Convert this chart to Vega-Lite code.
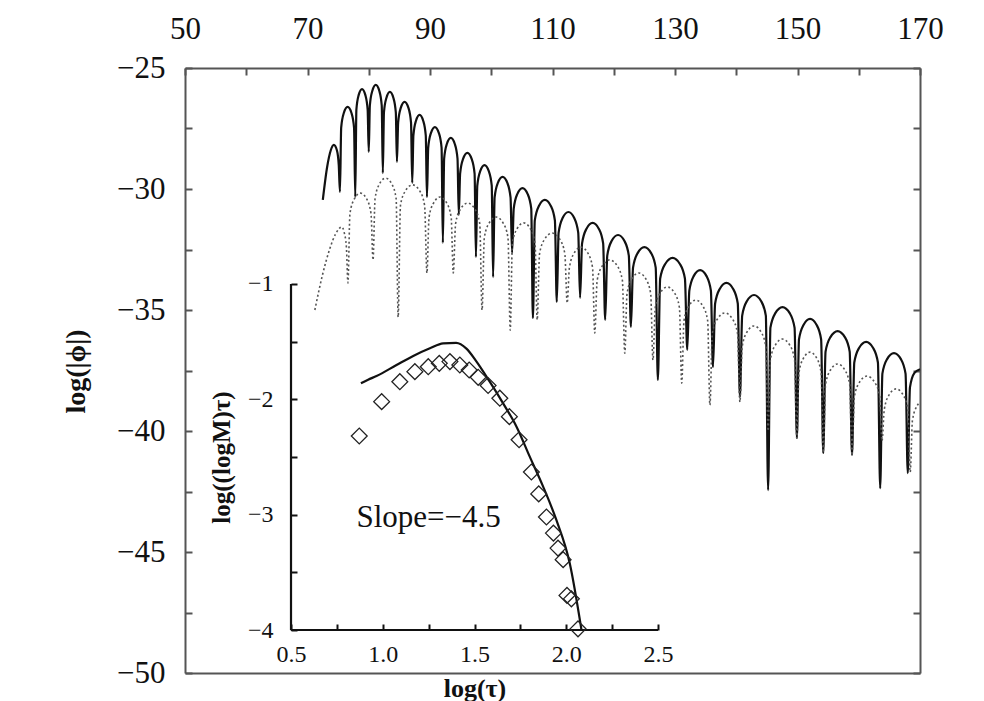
{
"$schema": "https://vega.github.io/schema/vega-lite/v6.json",
"width": 735, "height": 605,
"autosize": {"type": "none"},
"padding": {"left": 185, "top": 68, "right": 64, "bottom": 28},
"background": "white",
"config": {"view": {"stroke": null}, "font": "Liberation Serif",
 "axis": {"grid": false, "labelFont": "Liberation Serif", "titleFont": "Liberation Serif", "labelColor": "#111", "titleColor": "#111", "labelOverlap": false, "labelFlush": false, "labelBound": false}},
"datasets": {
"phi_solid": [
{"x":72.5,"y":-30.45},{"x":73.2,"y":-29.1},{"x":73.8,"y":-28.4},{"x":74.3,"y":-28.18},{"x":74.8,"y":-28.4},{"x":75.1,"y":-29.0},
{"x":75.3,"y":-30.12},
{"x":75.5,"y":-27.46},{"x":75.93,"y":-26.86},{"x":76.55,"y":-26.61},{"x":77.18,"y":-26.86},{"x":77.6,"y":-27.46},
{"x":77.8,"y":-30.33},
{"x":77.98,"y":-26.72},{"x":78.35,"y":-26.12},{"x":78.9,"y":-25.87},{"x":79.45,"y":-26.12},{"x":79.82,"y":-26.72},
{"x":80.0,"y":-28.47},
{"x":80.18,"y":-26.55},{"x":80.58,"y":-25.95},{"x":81.15,"y":-25.7},{"x":81.73,"y":-25.95},{"x":82.12,"y":-26.55},
{"x":82.3,"y":-29.34},
{"x":82.48,"y":-26.84},{"x":82.88,"y":-26.24},{"x":83.45,"y":-25.99},{"x":84.03,"y":-26.24},{"x":84.42,"y":-26.84},
{"x":84.6,"y":-28.88},
{"x":84.8,"y":-27.25},{"x":85.23,"y":-26.65},{"x":85.85,"y":-26.4},{"x":86.48,"y":-26.65},{"x":86.9,"y":-27.25},
{"x":87.1,"y":-29.75},
{"x":87.29,"y":-27.79},{"x":87.7,"y":-27.19},{"x":88.3,"y":-26.94},{"x":88.9,"y":-27.19},{"x":89.31,"y":-27.79},
{"x":89.5,"y":-30.33},
{"x":89.71,"y":-28.29},{"x":90.15,"y":-27.69},{"x":90.8,"y":-27.44},{"x":91.45,"y":-27.69},{"x":91.89,"y":-28.29},
{"x":92.1,"y":-32.23},
{"x":92.31,"y":-28.74},{"x":92.75,"y":-28.14},{"x":93.4,"y":-27.89},{"x":94.05,"y":-28.14},{"x":94.49,"y":-28.74},
{"x":94.7,"y":-31.07},
{"x":94.92,"y":-29.36},{"x":95.4,"y":-28.76},{"x":96.1,"y":-28.51},{"x":96.8,"y":-28.76},{"x":97.28,"y":-29.36},
{"x":97.5,"y":-32.81},
{"x":97.72,"y":-29.86},{"x":98.2,"y":-29.26},{"x":98.9,"y":-29.01},{"x":99.6,"y":-29.26},{"x":100.08,"y":-29.86},
{"x":100.3,"y":-33.64},
{"x":100.55,"y":-30.35},{"x":101.08,"y":-29.75},{"x":101.85,"y":-29.5},{"x":102.63,"y":-29.75},{"x":103.15,"y":-30.35},
{"x":103.4,"y":-32.64},
{"x":103.67,"y":-30.81},{"x":104.25,"y":-30.21},{"x":105.1,"y":-29.96},{"x":105.95,"y":-30.21},{"x":106.53,"y":-30.81},
{"x":106.8,"y":-35.33},
{"x":107.11,"y":-31.3},{"x":107.78,"y":-30.7},{"x":108.75,"y":-30.45},{"x":109.73,"y":-30.7},{"x":110.39,"y":-31.3},
{"x":110.7,"y":-34.67},
{"x":111.0,"y":-31.8},{"x":111.65,"y":-31.2},{"x":112.6,"y":-30.95},{"x":113.55,"y":-31.2},{"x":114.2,"y":-31.8},
{"x":114.5,"y":-34.5},
{"x":114.83,"y":-32.25},{"x":115.53,"y":-31.65},{"x":116.55,"y":-31.4},{"x":117.58,"y":-31.65},{"x":118.27,"y":-32.25},
{"x":118.6,"y":-35.41},
{"x":118.94,"y":-32.75},{"x":119.65,"y":-32.15},{"x":120.7,"y":-31.9},{"x":121.75,"y":-32.15},{"x":122.46,"y":-32.75},
{"x":122.8,"y":-35.7},
{"x":123.15,"y":-33.25},{"x":123.9,"y":-32.65},{"x":125.0,"y":-32.4},{"x":126.1,"y":-32.65},{"x":126.85,"y":-33.25},
{"x":127.2,"y":-37.89},
{"x":127.58,"y":-33.7},{"x":128.4,"y":-33.1},{"x":129.6,"y":-32.85},{"x":130.8,"y":-33.1},{"x":131.62,"y":-33.7},
{"x":132.0,"y":-36.65},
{"x":132.34,"y":-34.2},{"x":133.05,"y":-33.6},{"x":134.1,"y":-33.35},{"x":135.15,"y":-33.6},{"x":135.86,"y":-34.2},
{"x":136.2,"y":-37.36},
{"x":136.55,"y":-34.73},{"x":137.3,"y":-34.13},{"x":138.4,"y":-33.88},{"x":139.5,"y":-34.13},{"x":140.25,"y":-34.73},
{"x":140.6,"y":-38.6},
{"x":140.97,"y":-35.23},{"x":141.75,"y":-34.63},{"x":142.9,"y":-34.38},{"x":144.05,"y":-34.63},{"x":144.83,"y":-35.23},
{"x":145.2,"y":-42.44},
{"x":145.58,"y":-35.73},{"x":146.38,"y":-35.13},{"x":147.55,"y":-34.88},{"x":148.73,"y":-35.13},{"x":149.52,"y":-35.73},
{"x":149.9,"y":-40.29},
{"x":150.24,"y":-36.22},{"x":150.98,"y":-35.62},{"x":152.05,"y":-35.37},{"x":153.13,"y":-35.62},{"x":153.86,"y":-36.22},
{"x":154.2,"y":-40.91},
{"x":154.58,"y":-36.72},{"x":155.38,"y":-36.12},{"x":156.55,"y":-35.87},{"x":157.73,"y":-36.12},{"x":158.52,"y":-36.72},
{"x":158.9,"y":-40.99},
{"x":159.27,"y":-37.17},{"x":160.05,"y":-36.57},{"x":161.2,"y":-36.32},{"x":162.35,"y":-36.57},{"x":163.13,"y":-37.17},
{"x":163.5,"y":-42.36},
{"x":163.86,"y":-37.63},{"x":164.63,"y":-37.03},{"x":165.75,"y":-36.78},{"x":166.88,"y":-37.03},{"x":167.64,"y":-37.63},
{"x":168.0,"y":-41.74},
{"x":168.36,"y":-38.2},{"x":169.1,"y":-37.6},{"x":170.0,"y":-37.45}
],
"phi_dotted": [
{"x":71.2,"y":-35.0},{"x":72.4,"y":-33.6},{"x":73.6,"y":-32.5},{"x":74.6,"y":-31.85},{"x":75.6,"y":-31.57},{"x":76.0,"y":-31.8},{"x":76.35,"y":-32.4},
{"x":76.6,"y":-33.88},
{"x":76.93,"y":-31.02},{"x":77.63,"y":-30.42},{"x":78.65,"y":-30.17},{"x":79.68,"y":-30.42},{"x":80.37,"y":-31.02},
{"x":80.7,"y":-32.93},
{"x":81.03,"y":-30.4},{"x":81.73,"y":-29.8},{"x":82.75,"y":-29.55},{"x":83.78,"y":-29.8},{"x":84.47,"y":-30.4},
{"x":84.8,"y":-35.29},
{"x":85.18,"y":-30.68},{"x":85.98,"y":-30.08},{"x":87.15,"y":-29.83},{"x":88.33,"y":-30.08},{"x":89.12,"y":-30.68},
{"x":89.5,"y":-33.47},
{"x":89.84,"y":-31.18},{"x":90.58,"y":-30.58},{"x":91.65,"y":-30.33},{"x":92.73,"y":-30.58},{"x":93.46,"y":-31.18},
{"x":93.8,"y":-33.47},
{"x":94.18,"y":-31.43},{"x":94.98,"y":-30.83},{"x":96.15,"y":-30.58},{"x":97.33,"y":-30.83},{"x":98.12,"y":-31.43},
{"x":98.5,"y":-35.0},
{"x":98.87,"y":-32.01},{"x":99.65,"y":-31.41},{"x":100.8,"y":-31.16},{"x":101.95,"y":-31.41},{"x":102.73,"y":-32.01},
{"x":103.1,"y":-35.83},
{"x":103.45,"y":-32.25},{"x":104.2,"y":-31.65},{"x":105.3,"y":-31.4},{"x":106.4,"y":-31.65},{"x":107.15,"y":-32.25},
{"x":107.5,"y":-35.41},
{"x":107.89,"y":-32.67},{"x":108.73,"y":-32.07},{"x":109.95,"y":-31.82},{"x":111.18,"y":-32.07},{"x":112.01,"y":-32.67},
{"x":112.4,"y":-34.71},
{"x":112.76,"y":-33.25},{"x":113.53,"y":-32.65},{"x":114.65,"y":-32.4},{"x":115.78,"y":-32.65},{"x":116.54,"y":-33.25},
{"x":116.9,"y":-35.95},
{"x":117.29,"y":-33.78},{"x":118.13,"y":-33.18},{"x":119.35,"y":-32.93},{"x":120.58,"y":-33.18},{"x":121.41,"y":-33.78},
{"x":121.8,"y":-36.78},
{"x":122.17,"y":-34.32},{"x":122.95,"y":-33.72},{"x":124.1,"y":-33.47},{"x":125.25,"y":-33.72},{"x":126.03,"y":-34.32},
{"x":126.4,"y":-37.07},
{"x":126.78,"y":-34.9},{"x":127.58,"y":-34.3},{"x":128.75,"y":-34.05},{"x":129.93,"y":-34.3},{"x":130.72,"y":-34.9},
{"x":131.1,"y":-38.02},
{"x":131.47,"y":-35.44},{"x":132.25,"y":-34.84},{"x":133.4,"y":-34.59},{"x":134.55,"y":-34.84},{"x":135.33,"y":-35.44},
{"x":135.7,"y":-38.93},
{"x":136.09,"y":-35.97},{"x":136.93,"y":-35.37},{"x":138.15,"y":-35.12},{"x":139.38,"y":-35.37},{"x":140.21,"y":-35.97},
{"x":140.6,"y":-38.8},
{"x":140.97,"y":-36.51},{"x":141.75,"y":-35.91},{"x":142.9,"y":-35.66},{"x":144.05,"y":-35.91},{"x":144.83,"y":-36.51},
{"x":145.2,"y":-40.0},
{"x":145.58,"y":-37.05},{"x":146.38,"y":-36.45},{"x":147.55,"y":-36.2},{"x":148.73,"y":-36.45},{"x":149.52,"y":-37.05},
{"x":149.9,"y":-40.3},
{"x":150.24,"y":-37.59},{"x":150.98,"y":-36.99},{"x":152.05,"y":-36.74},{"x":153.13,"y":-36.99},{"x":153.86,"y":-37.59},
{"x":154.2,"y":-40.9},
{"x":154.58,"y":-38.08},{"x":155.38,"y":-37.48},{"x":156.55,"y":-37.23},{"x":157.73,"y":-37.48},{"x":158.52,"y":-38.08},
{"x":158.9,"y":-41.0},
{"x":159.29,"y":-38.58},{"x":160.13,"y":-37.98},{"x":161.35,"y":-37.73},{"x":162.58,"y":-37.98},{"x":163.41,"y":-38.58},
{"x":163.8,"y":-40.4},
{"x":164.17,"y":-39.11},{"x":164.95,"y":-38.51},{"x":166.1,"y":-38.26},{"x":167.25,"y":-38.51},{"x":168.03,"y":-39.11},
{"x":168.4,"y":-41.7},
{"x":168.77,"y":-39.55},{"x":169.55,"y":-38.95},{"x":170.0,"y":-38.8}
],
"inset_line": [
{"x":0.881,"y":-1.861},{"x":0.92,"y":-1.83},{"x":0.966,"y":-1.798},{"x":1.075,"y":-1.702},{"x":1.166,"y":-1.624},{"x":1.257,"y":-1.558},{"x":1.329,"y":-1.514},{"x":1.4,"y":-1.51},{"x":1.456,"y":-1.56},{"x":1.511,"y":-1.673},{"x":1.583,"y":-1.847},{"x":1.656,"y":-2.035},{"x":1.729,"y":-2.237},{"x":1.801,"y":-2.497},{"x":1.874,"y":-2.757},{"x":1.946,"y":-3.046},{"x":2.019,"y":-3.422},{"x":2.083,"y":-4.0}
],
"inset_diamonds": [
{"x":0.872,"y":-2.318},{"x":0.994,"y":-2.02},{"x":1.093,"y":-1.847},{"x":1.175,"y":-1.76},{"x":1.248,"y":-1.717},{"x":1.308,"y":-1.688},{"x":1.366,"y":-1.673},{"x":1.42,"y":-1.702},{"x":1.471,"y":-1.746},{"x":1.52,"y":-1.809},{"x":1.574,"y":-1.88},{"x":1.638,"y":-1.99},{"x":1.69,"y":-2.15},{"x":1.743,"y":-2.35},{"x":1.81,"y":-2.63},{"x":1.85,"y":-2.82},{"x":1.892,"y":-3.02},{"x":1.93,"y":-3.16},{"x":1.955,"y":-3.29},{"x":1.983,"y":-3.39},{"x":2.004,"y":-3.7},{"x":2.028,"y":-3.73},{"x":2.064,"y":-3.99}
],
"inset_frame": [
{"x":0.5,"x2":2.5,"y":-4,"y2":-4},
{"x":0.5,"x2":0.5,"y":-4,"y2":-1}
],
"inset_note": [
{"x":1.25,"y":-3.03,"label":"Slope=−4.5"}
]
},
"layer": [
{
"layer": [
{"data": {"name": "phi_solid"},
 "mark": {"type": "line", "color": "#111111", "strokeWidth": 2.2, "interpolate": "monotone"},
 "encoding": {
  "x": {"field": "x", "type": "quantitative", "scale": {"domain": [50, 170], "nice": false, "zero": false},
   "axis": {"orient": "top", "title": null, "values": [50,60,70,80,90,100,110,120,130,140,150,160,170],
    "labelExpr": "(datum.value - 50) % 20 == 0 ? format(datum.value, 'd') : ''",
    "labelFontSize": 31, "tickSize": -7, "labelPadding": 30, "tickColor": "#555", "tickWidth": 2, "domainColor": "#555", "domainWidth": 2}},
  "y": {"field": "y", "type": "quantitative", "scale": {"domain": [-50, -25], "nice": false, "zero": false},
   "axis": {"orient": "left", "title": "log(|ϕ|)", "values": [-50,-47.5,-45,-42.5,-40,-37.5,-35,-32.5,-30,-27.5,-25],
    "labelExpr": "datum.value % 5 == 0 ? format(datum.value, 'd') : ''",
    "labelFontSize": 31, "tickSize": -7, "labelPadding": 27, "tickColor": "#555", "tickWidth": 2, "domainColor": "#555", "domainWidth": 2,
    "titleFontSize": 28, "titleFontWeight": "bold", "titleX": -109, "titleY": 303, "titleBaseline": "middle", "titleAlign": "center", "titleAngle": -90}}
 }},
{"data": {"name": "phi_dotted"},
 "mark": {"type": "line", "color": "#555555", "strokeWidth": 1.6, "strokeDash": [2, 2.5], "interpolate": "monotone"},
 "encoding": {
  "x": {"field": "x", "type": "quantitative", "scale": {"domain": [50, 170], "nice": false, "zero": false},
   "axis": {"orient": "bottom", "title": null, "labels": false, "ticks": false, "domainColor": "#555", "domainWidth": 2}},
  "y": {"field": "y", "type": "quantitative", "scale": {"domain": [-50, -25], "nice": false, "zero": false},
   "axis": {"orient": "right", "title": null, "labels": false, "values": [-50,-47.5,-45,-42.5,-40,-37.5,-35,-32.5,-30,-27.5,-25],
    "tickSize": -7, "tickColor": "#555", "tickWidth": 2, "domainColor": "#555", "domainWidth": 2}}
 }}
],
"resolve": {"axis": {"x": "independent", "y": "independent"}}
},
{
"layer": [
{"data": {"name": "inset_frame"},
 "mark": {"type": "rule", "color": "#111", "strokeWidth": 2.2},
 "encoding": {
  "x": {"field": "x", "type": "quantitative", "scale": {"domain": [-0.0777, 3.9278], "nice": false, "zero": false},
   "axis": {"orient": "bottom", "offset": -43, "domain": false, "values": [0.5,0.75,1,1.25,1.5,1.75,2,2.25,2.5],
    "labelExpr": "(datum.value * 2) % 1 == 0 ? format(datum.value, '.1f') : ''",
    "labelFontSize": 24, "tickSize": -6, "labelPadding": 18, "tickColor": "#111", "tickWidth": 2,
    "title": "log(τ)", "titleFontSize": 26, "titleFontWeight": "bold", "titleX": 289.5, "titleY": 58, "titleBaseline": "middle", "titleAlign": "center"}},
  "x2": {"field": "x2"},
  "y": {"field": "y", "type": "quantitative", "scale": {"domain": [-4.3728, 0.8728], "nice": false, "zero": false},
   "axis": {"orient": "left", "offset": -106, "domain": false, "values": [-4,-3.5,-3,-2.5,-2,-1.5,-1],
    "labelExpr": "datum.value % 1 == 0 ? format(datum.value, 'd') : ''",
    "labelFontSize": 24, "tickSize": -6, "labelPadding": 24, "tickColor": "#111", "tickWidth": 2,
    "title": "log((logM)τ)", "titleFontSize": 25, "titleFontWeight": "bold", "titleX": -70, "titleY": 389, "titleBaseline": "middle", "titleAlign": "center", "titleAngle": -90}},
  "y2": {"field": "y2"}
 }},
{"data": {"name": "inset_line"},
 "mark": {"type": "line", "color": "#111", "strokeWidth": 2.2, "interpolate": "monotone"},
 "encoding": {
  "x": {"field": "x", "type": "quantitative", "scale": {"domain": [-0.0777, 3.9278], "nice": false, "zero": false}},
  "y": {"field": "y", "type": "quantitative", "scale": {"domain": [-4.3728, 0.8728], "nice": false, "zero": false}}
 }},
{"data": {"name": "inset_diamonds"},
 "mark": {"type": "point", "shape": "diamond", "filled": false, "color": "#222", "strokeWidth": 1.3, "size": 250, "opacity": 1},
 "encoding": {
  "x": {"field": "x", "type": "quantitative", "scale": {"domain": [-0.0777, 3.9278], "nice": false, "zero": false}},
  "y": {"field": "y", "type": "quantitative", "scale": {"domain": [-4.3728, 0.8728], "nice": false, "zero": false}}
 }},
{"data": {"name": "inset_note"},
 "mark": {"type": "text", "font": "Liberation Serif", "fontSize": 31, "color": "#111", "align": "center", "baseline": "middle"},
 "encoding": {
  "x": {"field": "x", "type": "quantitative", "scale": {"domain": [-0.0777, 3.9278], "nice": false, "zero": false}},
  "y": {"field": "y", "type": "quantitative", "scale": {"domain": [-4.3728, 0.8728], "nice": false, "zero": false}},
  "text": {"field": "label"}
 }}
]
}
],
"resolve": {"scale": {"x": "independent", "y": "independent"}}
}
